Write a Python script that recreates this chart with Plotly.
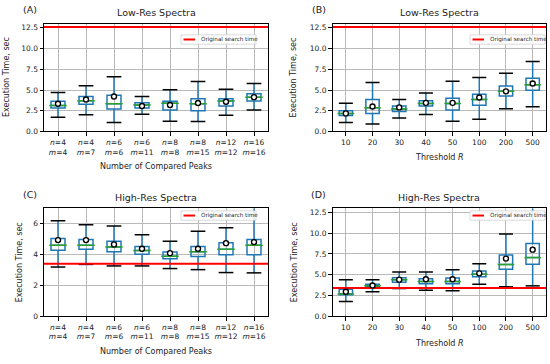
import plotly.graph_objects as go

# ---------------- data ----------------
peak_n = [4, 4, 6, 6, 8, 8, 12, 16]
peak_m = [4, 7, 6, 11, 8, 15, 12, 16]
threshold_labels = ["10", "20", "30", "40", "50", "100", "200", "500"]

orig_low = 12.6
orig_high = 3.4

# (A) Low-Res, number of compared peaks
a_upper = [4.70, 5.50, 6.61, 4.22, 5.02, 6.02, 5.10, 5.78]
a_q3 = [3.63, 4.22, 4.38, 3.47, 3.63, 3.94, 3.94, 4.54]
a_median = [3.12, 3.70, 3.35, 3.20, 3.39, 3.35, 3.67, 4.14]
a_q1 = [2.83, 3.27, 2.71, 2.83, 2.59, 2.51, 3.07, 3.67]
a_lower = [1.71, 2.03, 1.08, 2.07, 1.24, 1.20, 1.95, 2.59]
a_mean = [3.35, 3.86, 4.22, 3.07, 3.19, 3.43, 3.59, 4.14]

# (B) Low-Res, threshold R
b_upper = [3.41, 5.91, 3.85, 4.64, 6.07, 6.50, 7.02, 8.45]
b_q3 = [2.50, 3.85, 3.06, 3.69, 4.00, 4.48, 5.48, 6.43]
b_median = [2.18, 2.86, 2.70, 3.37, 3.37, 3.85, 4.84, 5.63]
b_q1 = [1.94, 2.18, 2.42, 3.06, 2.58, 3.17, 4.29, 4.96]
b_lower = [1.07, 0.91, 1.63, 2.06, 1.23, 1.47, 2.74, 2.98]
b_mean = [2.18, 3.02, 2.90, 3.45, 3.45, 4.09, 4.84, 5.79]

# (C) High-Res, number of compared peaks
c_upper = [6.19, 5.94, 5.85, 5.28, 4.87, 5.51, 5.74, 7.30]
c_q3 = [5.04, 4.98, 4.87, 4.53, 4.17, 4.53, 4.77, 4.98]
c_median = [4.60, 4.60, 4.49, 4.26, 3.89, 4.19, 4.34, 4.60]
c_q1 = [4.28, 4.34, 4.19, 4.02, 3.72, 3.87, 3.98, 3.98]
c_lower = [3.19, 3.36, 3.26, 3.26, 3.09, 3.02, 2.83, 2.81]
c_mean = [4.94, 4.94, 4.66, 4.38, 4.09, 4.38, 4.74, 4.81]

# (D) High-Res, threshold R
d_upper = [4.40, 4.40, 5.32, 5.32, 5.60, 6.31, 9.92, 13.50]
d_q3 = [3.25, 3.85, 4.64, 4.52, 4.60, 5.44, 7.38, 8.77]
d_median = [2.66, 3.67, 4.40, 4.17, 4.17, 5.04, 6.23, 7.06]
d_q1 = [2.58, 3.49, 4.09, 3.89, 3.89, 4.76, 5.67, 6.27]
d_lower = [1.75, 2.94, 3.33, 3.13, 3.06, 3.85, 3.53, 3.65]
d_mean = [2.94, 3.69, 4.40, 4.44, 4.44, 5.16, 6.94, 8.02]

# ---------------- layout helpers ----------------
W, H = 550, 364
FONT = "DejaVu Sans"
BLUE = "#1f77b4"
GREEN = "#2ca02c"


def fx(px):
    return px / W


def fy(py):
    return 1 - py / H


positions = list(range(1, 9))
peak_ticks = ["<i>n</i>=%d<br><i>m</i>=%d" % (n, m) for n, m in zip(peak_n, peak_m)]

panels = [
    dict(key="A", title="Low-Res Spectra", x=(44, 268), y=(24, 133.3), yr=(0, 13),
         ytick=2.5, yfmt=".1f", ticks=peak_ticks, xtitle="Number of Compared Peaks",
         xtitle_y=169, orig=orig_low, ytx=6.5,
         stats=(a_lower, a_q1, a_median, a_q3, a_upper, a_mean),
         leg=(181, 35.3)),
    dict(key="B", title="Low-Res Spectra", x=(332.5, 546), y=(24, 133.3), yr=(0, 13),
         ytick=2.5, yfmt=".1f", ticks=threshold_labels, xtitle="Threshold <i>R</i>",
         xtitle_y=159.5, orig=orig_low, ytx=294,
         stats=(b_lower, b_q1, b_median, b_q3, b_upper, b_mean),
         leg=(470, 35.3)),
    dict(key="C", title="High-Res Spectra", x=(44, 268), y=(211.3, 320.5), yr=(0, 7),
         ytick=2, yfmt="d", ticks=peak_ticks, xtitle="Number of Compared Peaks",
         xtitle_y=356, orig=orig_high, ytx=19,
         stats=(c_lower, c_q1, c_median, c_q3, c_upper, c_mean),
         leg=(181, 213.8)),
    dict(key="D", title="High-Res Spectra", x=(332.5, 546), y=(211.3, 320.5), yr=(0, 13),
         ytick=2.5, yfmt=".1f", ticks=threshold_labels, xtitle="Threshold <i>R</i>",
         xtitle_y=348, orig=orig_high, ytx=294,
         stats=(d_lower, d_q1, d_median, d_q3, d_upper, d_mean),
         leg=(470, 213.8)),
]

fig = go.Figure()
annotations = []
shapes = []
layout_axes = {}

for i, p in enumerate(panels, start=1):
    xa = "x" if i == 1 else "x%d" % i
    ya = "y" if i == 1 else "y%d" % i
    lower, q1, med, q3, upper, mean = p["stats"]
    plot_w = p["x"][1] - p["x"][0]
    box_px = plot_w / 8 * 0.5

    # box + whiskers
    fig.add_trace(go.Box(
        x=positions, q1=q1, median=med, q3=q3, lowerfence=lower, upperfence=upper,
        width=0.5, whiskerwidth=0, boxpoints=False,
        line=dict(color=BLUE, width=1.5), fillcolor="rgba(0,0,0,0)",
        showlegend=False, hoverinfo="skip", xaxis=xa, yaxis=ya))
    # caps
    fig.add_trace(go.Scatter(
        x=positions + positions, y=upper + lower, mode="markers",
        marker=dict(symbol="line-ew", size=box_px * 0.75,
                    line=dict(color="black", width=1.5)),
        showlegend=False, hoverinfo="skip", xaxis=xa, yaxis=ya))
    # medians
    fig.add_trace(go.Scatter(
        x=positions, y=med, mode="markers",
        marker=dict(symbol="line-ew", size=box_px - 1.5,
                    line=dict(color=GREEN, width=1.5)),
        showlegend=False, hoverinfo="skip", xaxis=xa, yaxis=ya))
    # original search time
    fig.add_trace(go.Scatter(
        x=[0.5, 8.5], y=[p["orig"], p["orig"]], mode="lines",
        line=dict(color="#ff0000", width=2), name="Original search time",
        showlegend=False, hoverinfo="skip", xaxis=xa, yaxis=ya))
    # means
    fig.add_trace(go.Scatter(
        x=positions, y=mean, mode="markers",
        marker=dict(symbol="circle", size=5, color="white",
                    line=dict(color="black", width=1.4)),
        showlegend=False, hoverinfo="skip", xaxis=xa, yaxis=ya))

    common = dict(showline=True, mirror=True, linecolor="black", linewidth=1,
                  ticks="outside", ticklen=3.5, tickwidth=1, tickcolor="black",
                  showgrid=True, gridcolor="#b9b9b9", gridwidth=1, zeroline=False,
                  tickfont=dict(family=FONT, size=7.5, color="#222"))
    layout_axes["xaxis" if i == 1 else "xaxis%d" % i] = dict(
        common, domain=[fx(p["x"][0]), fx(p["x"][1])], anchor=ya,
        range=[0.5, 8.5], tickmode="array", tickvals=positions, ticktext=p["ticks"])
    layout_axes["yaxis" if i == 1 else "yaxis%d" % i] = dict(
        common, domain=[fy(p["y"][1]), fy(p["y"][0])], anchor=xa,
        range=list(p["yr"]), tick0=0, dtick=p["ytick"], tickformat=p["yfmt"])

    cx = (p["x"][0] + p["x"][1]) / 2
    cy = (p["y"][0] + p["y"][1]) / 2
    annotations.append(dict(text=p["title"], x=fx(cx), y=fy(p["y"][0] - 11.5),
                            xref="paper", yref="paper", showarrow=False,
                            xanchor="center", yanchor="middle",
                            font=dict(family=FONT, size=9.5, color="#222")))
    annotations.append(dict(text="(%s)" % p["key"], x=fx(p["x"][0] - 14), y=fy(p["y"][0] - 14.5),
                            xref="paper", yref="paper", showarrow=False,
                            xanchor="center", yanchor="middle",
                            font=dict(family=FONT, size=9.5, color="#222")))
    annotations.append(dict(text=p["xtitle"], x=fx(cx), y=fy(p["xtitle_y"]),
                            xref="paper", yref="paper", showarrow=False,
                            xanchor="center", yanchor="middle",
                            font=dict(family=FONT, size=8, color="#222")))
    annotations.append(dict(text="Execution Time, sec", x=fx(p["ytx"]), y=fy(cy),
                            xref="paper", yref="paper", showarrow=False, textangle=-90,
                            xanchor="center", yanchor="middle",
                            font=dict(family=FONT, size=8, color="#222")))

    # legend box
    lx, ly = p["leg"]
    lw, lh = 75, 9.5
    shapes.append(dict(type="rect", xref="paper", yref="paper",
                       x0=fx(lx), x1=fx(lx + lw), y0=fy(ly + lh), y1=fy(ly),
                       line=dict(color="#d0d0d0", width=0.8),
                       fillcolor="rgba(255,255,255,0.85)", layer="above"))
    shapes.append(dict(type="line", xref="paper", yref="paper",
                       x0=fx(lx + 2.5), x1=fx(lx + 14), y0=fy(ly + lh / 2), y1=fy(ly + lh / 2),
                       line=dict(color="#ff0000", width=2), layer="above"))
    annotations.append(dict(text="Original search time", x=fx(lx + 17.5), y=fy(ly + lh / 2),
                            xref="paper", yref="paper", showarrow=False,
                            xanchor="left", yanchor="middle",
                            font=dict(family=FONT, size=5.6, color="#222")))

fig.update_layout(
    width=W, height=H, margin=dict(l=0, r=0, t=0, b=0),
    paper_bgcolor="white", plot_bgcolor="white",
    font=dict(family=FONT, color="#222"),
    annotations=annotations, shapes=shapes, showlegend=False,
    **layout_axes)

fig.write_html("out.html",
               config={"displayModeBar": False},
               post_script="document.body.style.margin='0px';"
                           "document.body.style.overflow='hidden';")
